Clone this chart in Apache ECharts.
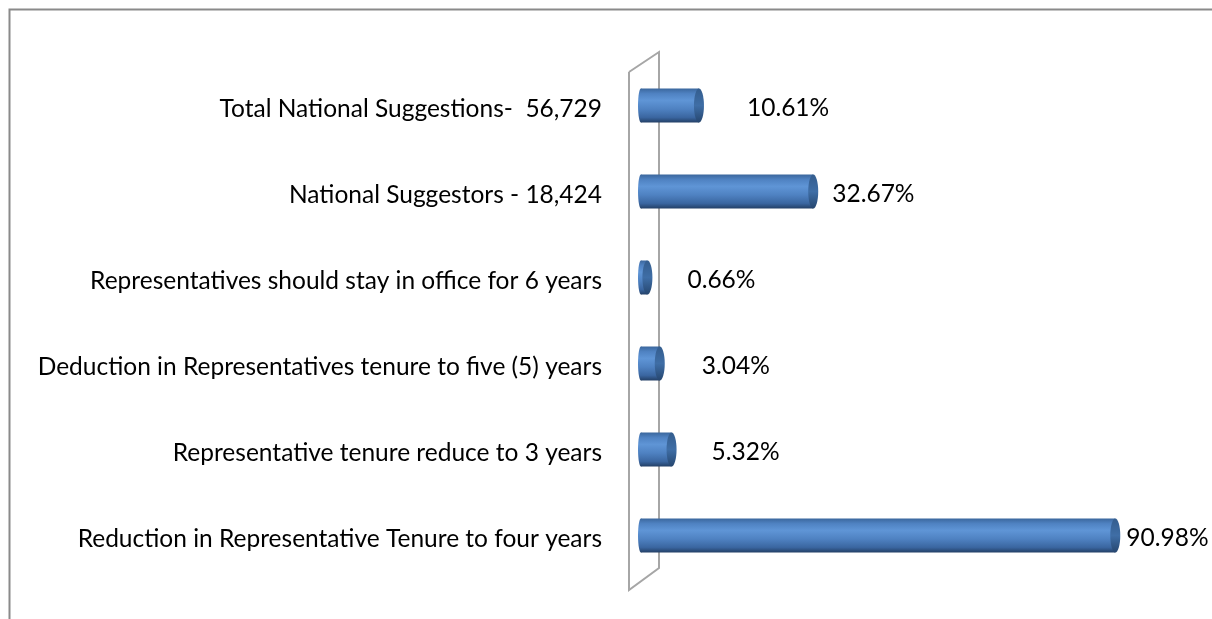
<!DOCTYPE html>
<html>
<head>
<meta charset="utf-8">
<script src="https://cdn.jsdelivr.net/npm/echarts@6/dist/echarts.min.js"></script>
<style>
  html, body { margin: 0; padding: 0; background: #fff; }
  #chart { width: 1212px; height: 619px; }
</style>
</head>
<body>
<div id="chart"></div>
<script>
// categories, top to bottom
const categories = [
  'Total National Suggestions-  56,729',
  'National Suggestors - 18,424',
  'Representatives should stay in office for 6 years',
  'Deduction in Representatives tenure to five (5) years',
  'Representative tenure reduce to 3 years',
  'Reduction in Representative Tenure to four years'
];
// percent values
const percents = [10.61, 32.67, 0.66, 3.04, 5.32, 90.98];

// gap between bar end and its label (px), as placed in the original
const labelGaps = [43, 14, 35, 37, 35, 6];

const FONT = 'Lato';
const FONT_SIZE = 24.5;

const chart = echarts.init(document.getElementById('chart'));

// cylinder body gradient (top -> bottom)
const bodyFill = new echarts.graphic.LinearGradient(0, 0, 0, 1, [
  { offset: 0, color: '#3b679d' },
  { offset: 0.15, color: '#4f82c2' },
  { offset: 0.35, color: '#5f95d6' },
  { offset: 0.6, color: '#4f82c2' },
  { offset: 0.85, color: '#3a66a0' },
  { offset: 1, color: '#233f66' }
]);
const capFill = new echarts.graphic.LinearGradient(0, 0, 0, 1, [
  { offset: 0, color: '#345d8e' },
  { offset: 0.5, color: '#3f6ea6' },
  { offset: 1, color: '#26466f' }
]);

const option = {
  animation: false,
  grid: { left: 649, width: 518, top: 62.5, height: 516 },
  xAxis: { type: 'value', min: 0, max: 100, show: false },
  yAxis: {
    type: 'category',
    inverse: true,
    data: categories,
    axisLine: { show: false },
    axisTick: { show: false },
    splitLine: { show: false },
    axisLabel: {
      margin: 47,
      color: '#000',
      fontFamily: FONT,
      fontSize: FONT_SIZE,
      // nudge labels a little below the bar centre, like the original
      formatter: (v) => '{c|' + v + '}',
      rich: {
        c: { fontFamily: FONT, fontSize: FONT_SIZE, color: '#000', padding: [7, 0, 0, 0] }
      }
    }
  },
  graphic: [
    { // chart frame
      type: 'polyline', silent: true,
      shape: { points: [[9.5, 619], [9.5, 9.5], [1212, 9.5]] },
      style: { stroke: '#8a8a8a', lineWidth: 2, fill: null }
    },
    { // 3D wall behind the category axis
      type: 'polyline', silent: true,
      shape: { points: [[629, 72], [659, 52], [659, 568], [629, 590], [629, 72]] },
      style: { stroke: '#a6a6a6', lineWidth: 2, fill: null }
    }
  ],
  series: [{
    type: 'custom',
    data: percents.map((v, i) => [v, i]),
    encode: { x: 0, y: 1 },
    renderItem: function (params, api) {
      const v = api.value(0);
      const c = api.value(1);
      const start = api.coord([0, c]);
      const end = api.coord([v, c]);
      const ry = 17;
      const cy = start[1];
      const x0 = start[0] - 8;
      const x1 = Math.max(end[0] - 5, x0 + 2);
      return {
        type: 'group',
        children: [
          { type: 'ellipse', shape: { cx: x0, cy: cy, rx: 3, ry: ry }, style: { fill: bodyFill } },
          { type: 'rect', shape: { x: x0, y: cy - ry, width: x1 - x0, height: ry * 2 }, style: { fill: bodyFill } },
          { type: 'ellipse', shape: { cx: x1, cy: cy, rx: 5, ry: ry }, style: { fill: capFill } },
          {
            type: 'text',
            x: end[0] + labelGaps[params.dataIndex],
            y: cy + 3,
            style: {
              text: v.toFixed(2) + '%',
              fill: '#000',
              font: FONT_SIZE + 'px ' + FONT,
              verticalAlign: 'middle',
              align: 'left'
            }
          }
        ]
      };
    }
  }]
};

chart.setOption(option);
</script>
</body>
</html>
